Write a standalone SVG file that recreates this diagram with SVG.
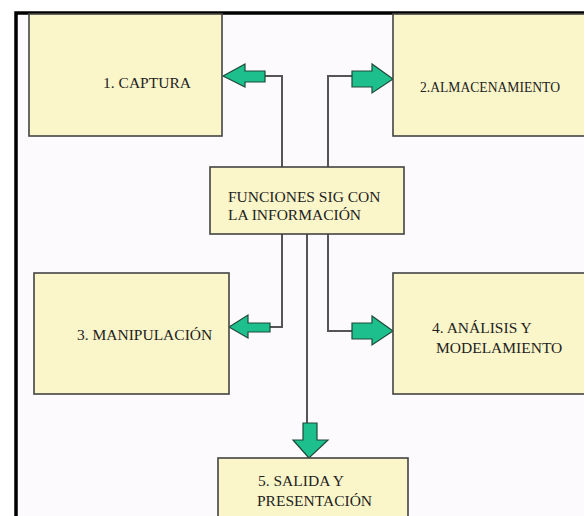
<svg xmlns="http://www.w3.org/2000/svg" width="584" height="516" viewBox="0 0 584 516">
<style>
.box{fill:#FBF6C9;stroke:#444;stroke-width:1.6}
.t{font-family:"Liberation Serif","DejaVu Serif","Times New Roman",serif;font-size:15.5px;fill:#222}
.ln{fill:none;stroke:#555;stroke-width:2}
.ar{fill:#1DBF8C;stroke:#1F4A38;stroke-width:1.2;stroke-linejoin:miter}
</style>
<rect x="0" y="0" width="584" height="516" fill="#ffffff"/>
<rect x="16" y="13" width="580" height="520" fill="#FDFAFD" stroke="#000" stroke-width="3.5"/>
<g id="connectors">
<polyline class="ln" points="265,76 282,76 282,167"/>
<polyline class="ln" points="328,167 328,76 352,76"/>
<polyline class="ln" points="282,234 282,327 270,327"/>
<polyline class="ln" points="328,234 328,331 352,331"/>
<line class="ln" x1="307" y1="234" x2="307" y2="423"/>
<polygon class="ar" points="223,76 245,64 245,71 265,71 265,82 245,82 245,87"/>
<polygon class="ar" points="393,79 372,64 372,71 352,71 352,87 372,87 372,93"/>
<polygon class="ar" points="229,327 248,315 248,323 270,323 270,332 248,332 248,338"/>
<polygon class="ar" points="393,331 372,316 372,323 352,323 352,339 372,339 372,345"/>
<polygon class="ar" points="309,458 293,440 303,440 303,423 317,423 317,440 328,440"/>
</g>
<g id="n1"><rect class="box" x="29" y="14" width="193" height="122"/><text class="t" x="147" y="88" text-anchor="middle">1. CAPTURA</text></g>
<g id="n2"><rect class="box" x="393" y="14" width="200" height="122"/><text class="t" x="420" y="92" font-size="14" textLength="140" lengthAdjust="spacingAndGlyphs">2.ALMACENAMIENTO</text></g>
<g id="center"><rect class="box" x="210" y="167" width="194" height="67"/><text class="t" x="228" y="202">FUNCIONES SIG CON</text><text class="t" x="228" y="220">LA INFORMACIÓN</text></g>
<g id="n3"><rect class="box" x="34" y="273" width="195" height="121"/><text class="t" x="77" y="340">3. MANIPULACIÓN</text></g>
<g id="n4"><rect class="box" x="393" y="273" width="200" height="121"/><text class="t" x="432" y="333">4. ANÁLISIS Y</text><text class="t" x="436" y="353">MODELAMIENTO</text></g>
<g id="n5"><rect class="box" x="218" y="458" width="190" height="70"/><text class="t" x="258" y="486">5. SALIDA Y</text><text class="t" x="257" y="506">PRESENTACIÓN</text></g>
</svg>
